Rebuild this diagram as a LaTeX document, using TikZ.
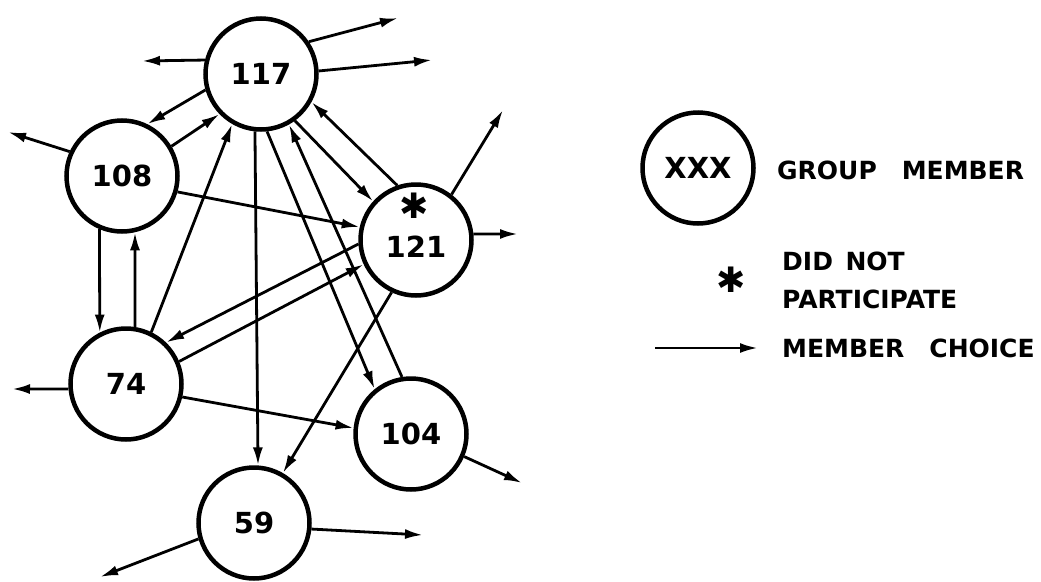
\documentclass[tikz,border=0pt]{standalone}
\usepackage{fontspec}
\setmainfont{DejaVu Sans}
\usetikzlibrary{arrows.meta}
\begin{document}
\begin{tikzpicture}[
		x=1pt,
		y=-1pt,
		membro/.style={
			draw,
			circle,
			minimum size=111pt,
			inner sep=0pt,
			line width=4.5pt,
			font=\fontsize{29}{30}\selectfont\bfseries
		},
		rotulo/.style={
			inner sep=0pt,
			font=\fontsize{29}{30}\selectfont\bfseries
		},
		escolha/.style={
			-{Latex[length=18pt,width=10pt]},
			line width=2.8pt
		},
		legenda/.style={
			anchor=west,
			inner sep=0pt,
			align=left,
			font=\fontsize{25}{38}\selectfont\bfseries
		},
		asterisco/.style={
			inner sep=0pt,
			font=\fontsize{35}{35}\selectfont
		}
		]
		\useasboundingbox (0,0) rectangle (1041,581);
		
		\node[membro] (m117) at (261,74) {117};
		\node[membro] (m108) at (122,176) {108};
		\node[membro] (m121) at (416,240) {};
		\node[membro] (m74) at (126,384) {74};
		\node[membro] (m104) at (411,434) {104};
		\node[membro] (m59) at (254,523) {59};
		
		\node[rotulo] (num121) at (416,247) {121};
		\node[asterisco] (ast121) at (414,206) {✱};
		
		%Escolhas livres
		\coordinate (f117a) at (142,61);
		\coordinate (f117b) at (398,18);
		\coordinate (f117c) at (432,60);
		\coordinate (f108) at (8,132);
		\coordinate (f121a) at (503,110);
		\coordinate (f121b) at (518,234);
		\coordinate (f74) at (12,389);
		\coordinate (f104) at (522,483);
		\coordinate (f59a) at (423,535);
		\coordinate (f59b) at (100,577);
		
		\draw[escolha] (m117.166) -- (f117a);
		\draw[escolha] (m117.34) -- (f117b);
		\draw[escolha] (m117.3) -- (f117c);
		\draw[escolha] (m108.155) -- (f108);
		\draw[escolha] (m121.52) -- (f121a);
		\draw[escolha] (m121.6) -- (f121b);
		\draw[escolha] (m74.185) -- (f74);
		\draw[escolha] (m104.337) -- (f104);
		\draw[escolha] (m59.354) -- (f59a);
		\draw[escolha] (m59.196) -- (f59b);
		
		%Escolhas entre membros
		\draw[escolha] (m117.196) -- (m108.64);
		\draw[escolha] (m108.31) -- (m117.224);
		\draw[escolha] (m74.64) -- (m117.240);
		\draw[escolha] (m117.264) -- (m59.86);
		\draw[escolha] (m117.276) -- (m104.129);
		\draw[escolha] (m104.99) -- (m117.299);
		\draw[escolha] (m117.306) -- (m121.138);
		\draw[escolha] (m121.109) -- (m117.331);
		\draw[escolha] (m108.344) -- (m121.167);
		\draw[escolha] (m108.247) -- (m74.117);
		\draw[escolha] (m74.81) -- (m108.283);
		\draw[escolha] (m121.184) -- (m74.46);
		\draw[escolha] (m74.23) -- (m121.205);
		\draw[escolha] (m121.245) -- (m59.60);
		\draw[escolha] (m74.347) -- (m104.174);
		
		%Legenda
		\node[membro] (legmembro) at (698,168) {XXX};
		\node[legenda] (txtmembro) at (777,170) {GROUP\quad MEMBER};
		\node[asterisco] (legast) at (731,280) {✱};
		\node[legenda] (txtast1) at (782,261) {DID\enspace NOT};
		\node[legenda] (txtast2) at (782,299) {PARTICIPATE};
		\coordinate (legA) at (655,348);
		\coordinate (legB) at (758,348);
		\draw[escolha] (legA) -- (legB);
		\node[legenda] (txtescolha) at (782,348) {MEMBER\quad CHOICE};
		
	\end{tikzpicture}
\end{document}
